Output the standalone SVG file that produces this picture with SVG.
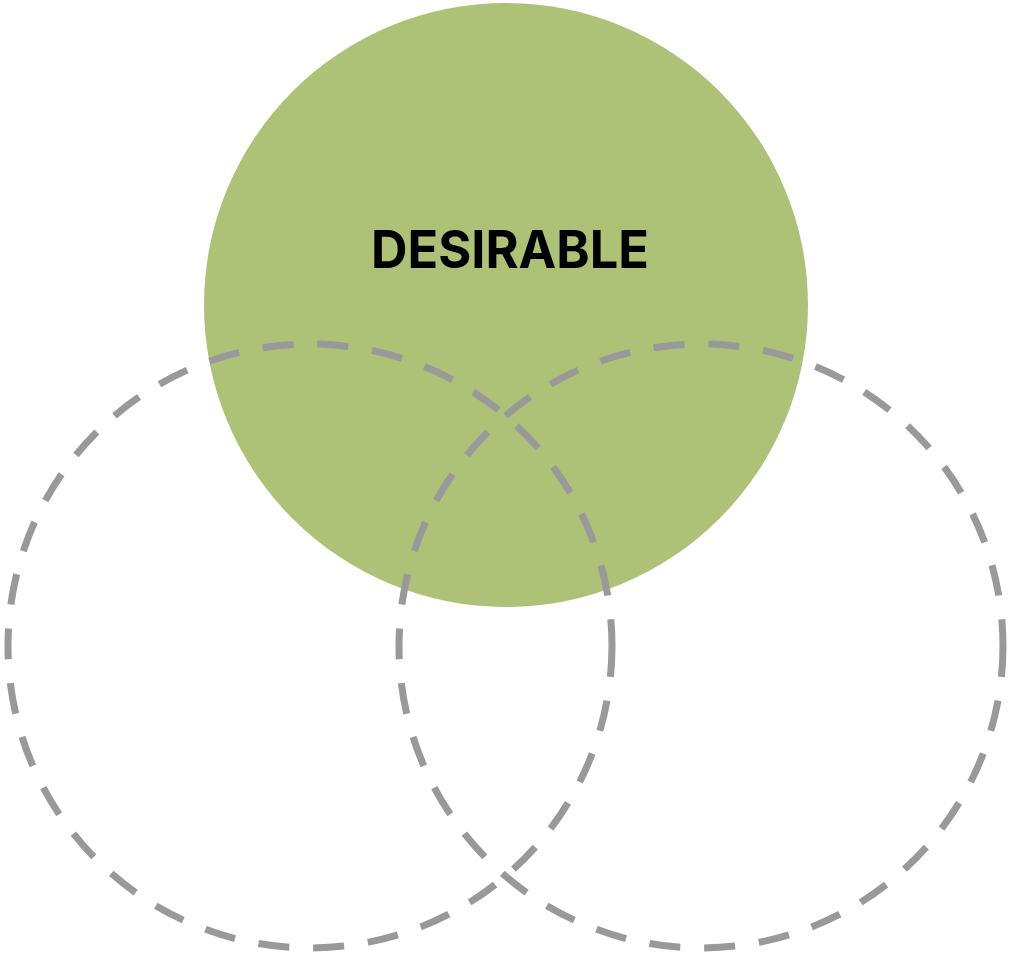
<svg xmlns="http://www.w3.org/2000/svg" width="1013" height="959" viewBox="0 0 1013 959">
<style>
.dash{fill:none;stroke:#999999;stroke-width:7;stroke-dasharray:31 24;}
.label{font-family:Inter,"Liberation Sans",sans-serif;font-weight:700;font-size:52px;fill:#000;}
</style>
<rect width="1013" height="959" fill="#ffffff"/>
<g id="desirable">
<circle cx="506" cy="305" r="302" fill="#adc276"/>
<text class="label" x="510" y="268" text-anchor="middle" textLength="278" lengthAdjust="spacingAndGlyphs">DESIRABLE</text>
</g>
<g id="left-circle">
<circle class="dash" cx="310" cy="646" r="302"/>
</g>
<g id="right-circle">
<circle class="dash" cx="701" cy="646" r="302"/>
</g>
</svg>
